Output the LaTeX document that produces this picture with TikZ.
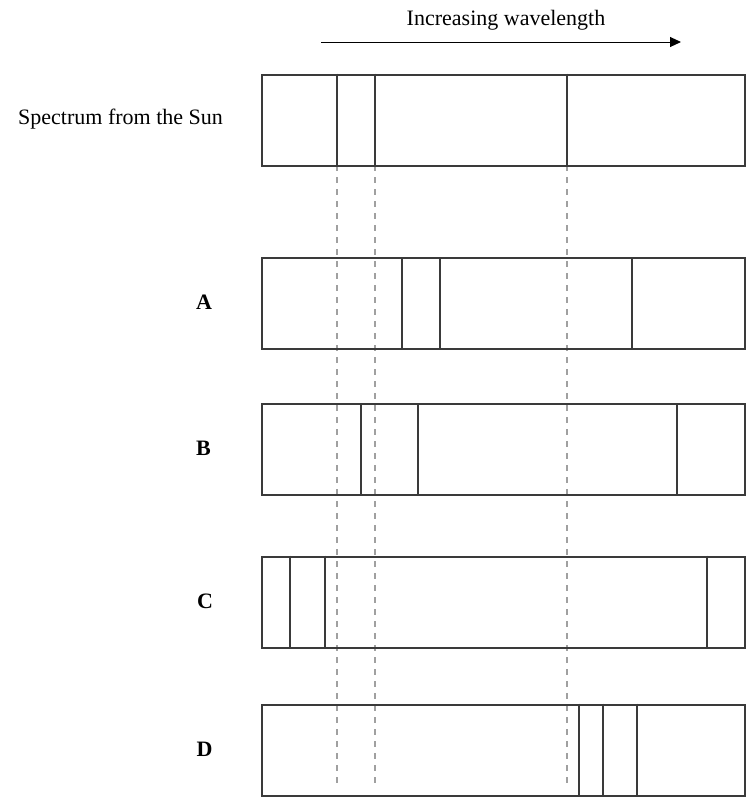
\documentclass[tikz,border=0pt]{standalone}
\usepackage{fontspec}
\setmainfont{Liberation Serif}
\usetikzlibrary{arrows.meta,calc}
\definecolor{boxc}{HTML}{3A3A3A}
\definecolor{guidec}{HTML}{A0A0A0}
\newcommand{\bandlines}[2]{%
  \foreach \xx in {#2} {\draw[lineb] ($(#1.north west)+(\xx-260.5,0)$) -- ($(#1.south west)+(\xx-260.5,0)$);}}
\begin{document}
\begin{tikzpicture}[x=1pt,y=-1pt,
  band/.style={draw=boxc, line width=2pt, minimum width=483pt, minimum height=91pt, inner sep=0pt, anchor=north west},
  lineb/.style={draw=boxc, line width=1.8pt},
  guide/.style={draw=guidec, line width=1.4pt, dash pattern=on 6pt off 6pt},
  txt/.style={font=\fontsize{22}{26}\selectfont, inner sep=0pt},
  lbl/.style={font=\fontsize{22}{26}\selectfont\bfseries, inner sep=0pt, anchor=base}]
\useasboundingbox (0,0) rectangle (755,806);

% guide lines (behind the bands)
\coordinate (gt1) at (337,165); \coordinate (gb1) at (337,788);
\coordinate (gt2) at (375,165); \coordinate (gb2) at (375,788);
\coordinate (gt3) at (567,165); \coordinate (gb3) at (567,788);
\draw[guide] (gt1) -- (gb1);
\draw[guide] (gt2) -- (gb2);
\draw[guide] (gt3) -- (gb3);

% bands
\node[band] (sun) at (260.5,73.5) {};
\node[band] (a) at (260.5,257) {};
\node[band] (b) at (260.5,403) {};
\node[band] (c) at (260.5,555.5) {};
\node[band] (d) at (260.5,703.5) {};

\bandlines{sun}{337,375,567}
\bandlines{a}{402,440,632}
\bandlines{b}{361,418,677}
\bandlines{c}{290,325,707}
\bandlines{d}{579,603,637}

% labels
\node[txt, anchor=base west] (sunlbl) at (18,124) {Spectrum from the Sun};
\node[lbl] (albl) at (204,309.5) {A};
\node[lbl] (blbl) at (203.5,455.5) {B};
\node[lbl] (clbl) at (205,608) {C};
\node[lbl] (dlbl) at (204.5,756) {D};

% wavelength arrow
\node[txt, anchor=base] (wl) at (506,25) {Increasing wavelength};
\coordinate (as) at (321,42);
\coordinate (ae) at (681,42);
\draw[line width=1pt, -{Triangle[length=11pt,width=10pt]}] (as) -- (ae);
\end{tikzpicture}
\end{document}
